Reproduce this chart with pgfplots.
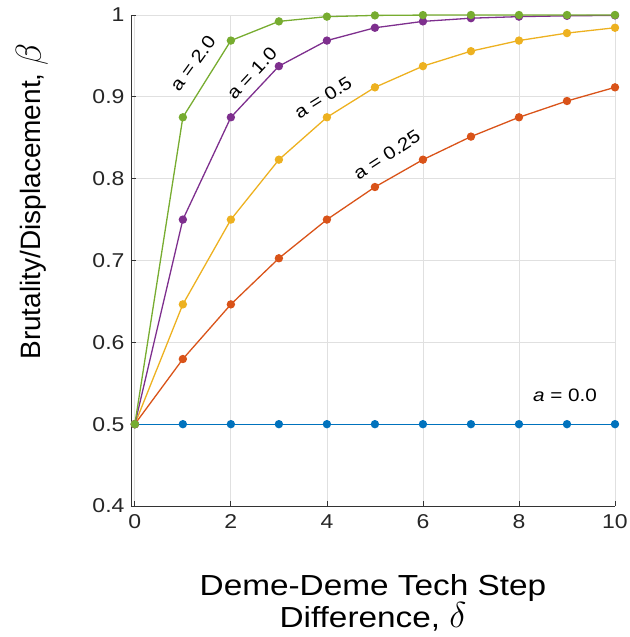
\documentclass[border=0pt]{standalone}
\usepackage{graphicx}
\usepackage{fontspec}
\setmainfont{Liberation Sans}[FakeStretch=1.15]
\newfontfamily\ylfont{Liberation Sans}
\usepackage{pgfplots}
\pgfplotsset{compat=1.18}
\definecolor{mblue}{rgb}{0,0.447,0.741}
\definecolor{morange}{rgb}{0.85,0.325,0.098}
\definecolor{myellow}{rgb}{0.929,0.694,0.125}
\definecolor{mpurple}{rgb}{0.494,0.184,0.556}
\definecolor{mgreen}{rgb}{0.466,0.674,0.188}
\begin{document}
\begin{tikzpicture}
\begin{axis}[
    name=ax, scale only axis,
    width=484pt, height=491pt,
    xmin=-0.08, xmax=10, ymin=0.4, ymax=1,
    xtick={0,2,4,6,8,10}, ytick={0.4,0.5,0.6,0.7,0.8,0.9,1},
    grid=major, grid style={black!12, line width=0.8pt},
    axis x line*=bottom, axis y line*=left,
    axis line style={-, black!80, line width=0.8pt},
    tick align=inside, major tick length=5pt,
    tick style={black!80, line width=0.8pt},
    /pgf/number format/assume math mode=true,
    ticklabel style={font=\fontsize{20}{20}\selectfont, text=black!85},
    xticklabel style={yshift=-5pt},
    yticklabel style={xshift=-3pt, /pgf/number format/fixed, /pgf/number format/precision=1},
    xlabel={Deme-Deme Tech Step\\Difference, \scalebox{1.45}{$\delta$}},
    xlabel style={align=center, font=\fontsize{29}{32}\selectfont,
        at={(rel axis cs:0.5,0)}, anchor=north, inner sep=0pt, yshift=-68pt},
    ylabel={\ylfont Brutality/Displacement, \scalebox{1.45}{$\beta$}},
    ylabel style={font=\fontsize{28}{31}\selectfont,
        at={(rel axis cs:-0.205,0.62)}, anchor=center},
    every axis plot/.append style={line width=1.3pt, mark=*, mark size=3.5pt},
]
% a = 0.0
\addplot[mblue] coordinates {
(0,0.5) (1,0.5) (2,0.5) (3,0.5) (4,0.5) (5,0.5) (6,0.5) (7,0.5) (8,0.5) (9,0.5) (10,0.5)};
% a = 0.25
\addplot[morange] coordinates {
(0,0.5) (1,0.5796) (2,0.6464) (3,0.7027) (4,0.75) (5,0.7898) (6,0.8232) (7,0.8514) (8,0.875) (9,0.8949) (10,0.9116)};
% a = 0.5
\addplot[myellow] coordinates {
(0,0.5) (1,0.6464) (2,0.75) (3,0.8232) (4,0.875) (5,0.9116) (6,0.9375) (7,0.9558) (8,0.96875) (9,0.9779) (10,0.9844)};
% a = 1.0
\addplot[mpurple] coordinates {
(0,0.5) (1,0.75) (2,0.875) (3,0.9375) (4,0.96875) (5,0.9844) (6,0.9922) (7,0.9961) (8,0.9980) (9,0.9990) (10,0.9995)};
% a = 2.0
\addplot[mgreen] coordinates {
(0,0.5) (1,0.875) (2,0.96875) (3,0.9922) (4,0.9980) (5,0.9995) (6,0.9999) (7,1.0) (8,1.0) (9,1.0) (10,1.0)};

\node[rotate=54, font=\fontsize{18}{18}\selectfont] at (axis cs:1.21,0.941) {a = 2.0};
\node[rotate=47, font=\fontsize{18}{18}\selectfont] at (axis cs:2.44,0.929) {a = 1.0};
\node[rotate=32, font=\fontsize{18}{18}\selectfont] at (axis cs:3.92,0.899) {a = 0.5};
\node[rotate=33, font=\fontsize{18}{18}\selectfont] at (axis cs:5.25,0.829) {a = 0.25};
\node[font=\fontsize{18}{18}\selectfont] at (axis cs:8.96,0.535) {\textit{a} = 0.0};
\end{axis}
\pgfresetboundingbox
\path ([xshift=-131pt,yshift=-131pt]ax.south west) rectangle ([xshift=14pt,yshift=15pt]ax.north east);
\end{tikzpicture}
\end{document}
